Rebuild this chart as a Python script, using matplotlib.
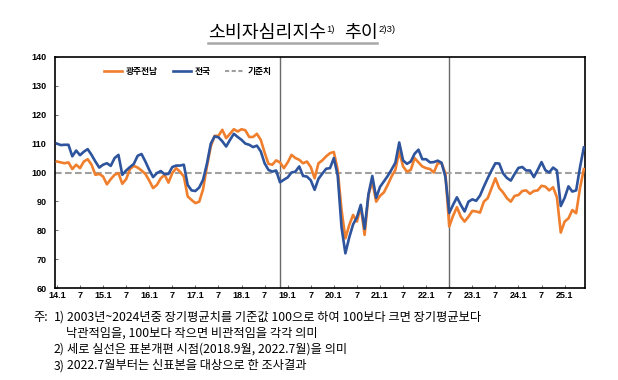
import numpy as np
import matplotlib.pyplot as plt
from matplotlib.lines import Line2D
from matplotlib.transforms import IdentityTransform

plt.rcParams['font.family'] = ['Noto Sans CJK KR', 'DejaVu Sans']

# monthly labels 2014.1 ~ 2025.6
months = [f"{y}.{m}" for y in range(2014, 2026) for m in range(1, 13)][:138]

gwangju = [
    103.8, 103.5, 103.2, 103.5, 101.2, 102.7, 101.5, 103.8, 104.6, 102.7, 99.2, 99.5,
    98.6, 95.9, 97.7, 99.2, 99.8, 96.1, 97.7, 101.2, 102.3, 101.7, 100.7, 99.5,
    97.2, 94.6, 95.7, 98.0, 99.2, 96.5, 99.8, 101.5, 100.3, 98.6, 91.7, 90.5,
    89.4, 89.9, 94.2, 102.1, 109.0, 112.7, 112.7, 114.8, 111.9, 113.4, 115.0, 114.2,
    115.0, 114.6, 112.3, 112.3, 113.4, 111.3, 106.9, 103.0, 102.7, 104.2, 103.5, 101.5,
    103.5, 106.1, 105.0, 104.4, 103.2, 103.8, 101.9, 98.0, 103.2, 104.2, 105.6, 106.7,
    107.1, 100.9, 87.0, 77.2, 81.8, 85.3, 83.0, 88.2, 78.4, 92.2, 96.9, 89.9,
    91.9, 93.1, 95.7, 98.6, 100.9, 107.3, 102.1, 100.3, 100.9, 105.0, 103.5, 102.1,
    101.5, 101.2, 100.0, 103.2, 103.2, 99.8, 81.3, 85.0, 88.0, 84.7, 83.0, 84.7,
    86.7, 86.5, 86.1, 89.9, 91.1, 94.6, 98.0, 94.6, 93.1, 91.1, 89.9, 91.9,
    92.2, 93.6, 93.8, 92.6, 93.6, 93.8, 95.4, 95.1, 93.8, 94.9, 91.4, 79.2,
    83.0, 84.1, 87.0, 85.9, 94.6, 101.2,
]
national = [
    110.0, 109.5, 109.6, 109.6, 105.6, 107.6, 106.0, 107.2, 108.1, 106.1, 103.8, 101.7,
    102.7, 103.2, 102.3, 105.0, 106.1, 99.2, 100.7, 101.9, 103.0, 105.8, 106.4, 103.8,
    100.9, 98.4, 99.8, 100.5, 99.4, 99.5, 101.9, 102.4, 102.4, 102.7, 95.7, 93.8,
    93.6, 94.8, 97.5, 103.0, 110.0, 112.5, 112.2, 110.8, 109.0, 111.3, 113.4, 112.3,
    111.3, 110.0, 109.6, 108.8, 109.3, 107.3, 103.2, 100.9, 100.3, 100.7, 96.6, 97.5,
    98.3, 100.0, 100.3, 102.1, 98.8, 98.6, 97.3, 94.0, 97.8, 99.6, 101.3, 101.5,
    105.0, 99.0, 81.0, 72.0, 77.5, 82.0, 84.5, 88.8, 80.5, 92.5, 98.8, 91.2,
    95.0, 96.9, 98.8, 101.0, 103.4, 110.4, 104.2, 103.0, 103.8, 106.5, 107.9, 104.6,
    104.6, 103.5, 103.6, 104.1, 103.4, 98.5, 86.0, 88.8, 91.4, 88.8, 86.5, 89.9,
    90.7, 90.2, 92.0, 95.1, 98.0, 100.7, 103.2, 103.1, 99.7, 98.1, 97.2, 99.5,
    101.6, 101.9, 100.7, 100.7, 98.4, 100.9, 103.6, 100.8, 100.0, 101.7, 100.7, 88.4,
    91.2, 95.2, 93.4, 93.8, 101.8, 108.7,
]
baseline = 100
sample_breaks = ["2018.11", "2022.7"]
series_names = ["광주전남", "전국", "기준치"]

x = np.arange(len(months))
tick_pos = x[::6]
tick_labels = [m[2:] if m.endswith(".1") else m.split(".")[1] for m in months[::6]]

fig = plt.figure(figsize=(6.18, 3.80), dpi=100)
ax = fig.add_axes([55 / 618, 1 - 288 / 380, 530 / 618, 231 / 380])

for b in sample_breaks:
    ax.axvline(months.index(b), color="#6a6a6a", lw=1.0, zorder=1)
ax.axhline(baseline, color="#a0a0a0", lw=1.5, dashes=(3.2, 1.6), zorder=2)
ax.plot(x, gwangju, color="#F07F2D", lw=1.9, zorder=3)
ax.plot(x, national, color="#2D549C", lw=1.9, zorder=4)

ax.set_xlim(-0.5, 137.3)
ax.set_ylim(60, 140)
ax.set_yticks(range(60, 141, 10))
ax.set_xticks(tick_pos)
ax.set_xticklabels(tick_labels)
for lab in ax.get_xticklabels() + ax.get_yticklabels():
    lab.set_family("Liberation Sans")
    lab.set_fontweight("bold")
    lab.set_fontsize(6.5)
ax.tick_params(axis="both", direction="in", length=2.5, width=0.6, colors="#555555",
               labelcolor="black")
ax.tick_params(axis="x", pad=2)
ax.tick_params(axis="y", pad=6)
for s in ax.spines.values():
    s.set_linewidth(1.2)
    s.set_color("black")

handles = [
    Line2D([], [], color="#F07F2D", lw=1.9),
    Line2D([], [], color="#2D549C", lw=1.9),
    Line2D([], [], color="#a0a0a0", lw=1.5, dashes=(2.0, 1.2)),
]
ax.legend(handles, series_names, ncol=3, frameon=False, loc="center left",
          bbox_to_anchor=(0.092, 0.936), borderaxespad=0, borderpad=0,
          handlelength=2.1, handletextpad=0.4, columnspacing=1.7,
          prop={"family": "Noto Sans CJK KR", "weight": "bold", "size": 6.3})

# title with superscripts, placed in pixel coordinates
H = 380
renderer = fig.canvas.get_renderer()

def ptext(px, py, s, **kw):
    return fig.text(px, H - py, s, transform=IdentityTransform(), **kw)

def run(px, py, parts):
    # parts: (text, fontsize, raise_px, gap_after_px, family)
    for s, size, rise, gap, fam in parts:
        t = ptext(px, py - rise, s, fontsize=size, va="baseline", family=fam)
        px = t.get_window_extent(renderer).x1 + gap
    return px

title_font = ["Noto Sans CJK KR", "DejaVu Sans"]
run(208, 38, [
    ("소비자심리지수", 13.2, 0, 0.5, title_font),
    ("1)", 6.8, 6, 9, "Liberation Sans"),
    ("추이", 13.2, 0, 0.5, title_font),
    ("2)3)", 6.8, 6, 0, "Liberation Sans"),
])
fig.add_artist(Line2D([208, 377], [H - 42.5, H - 42.5], transform=IdentityTransform(),
                      color="#a8a8a8", lw=1.8))

# footnotes
note_kw = dict(fontsize=8.8, va="center")
ptext(33, 317, "주:", **note_kw)
ptext(54, 317, "1)", **note_kw)
ptext(67, 317, "2003년~2024년중 장기평균치를 기준값 100으로 하여 100보다 크면 장기평균보다", **note_kw)
ptext(66, 333, "낙관적임을, 100보다 작으면 비관적임을 각각 의미", **note_kw)
ptext(54, 349, "2)", **note_kw)
ptext(67, 349, "세로 실선은 표본개편 시점(2018.9월, 2022.7월)을 의미", **note_kw)
ptext(54, 366, "3)", **note_kw)
ptext(67, 366, "2022.7월부터는 신표본을 대상으로 한 조사결과", **note_kw)

fig.savefig("out.png", dpi=100)
